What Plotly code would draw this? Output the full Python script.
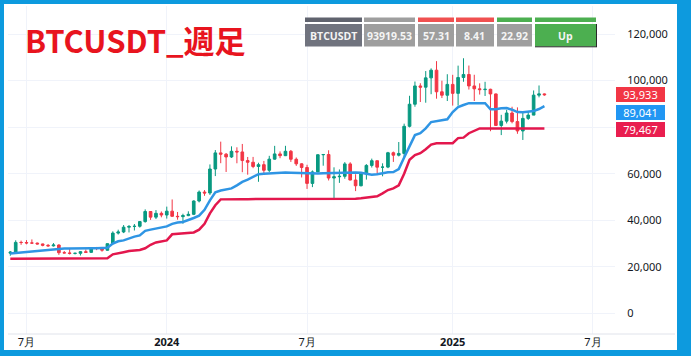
import plotly.graph_objects as go
import pandas as pd

# ---------------- data ----------------
week_start = "2023-06-12"
n_weeks = 100
weeks = pd.date_range(week_start, periods=n_weeks, freq="7D")

opens = [25910, 26340, 30530, 30470, 30290, 30230, 29860, 29280, 29040, 29410,
         26100, 26000, 25800, 25840, 26530, 26250, 27990, 27930, 27150, 29990,
         34520, 35010, 37060, 37360, 37450, 39460, 43790, 41370, 43010, 42280,
         43940, 41730, 41580, 42030, 42580, 48300, 52140, 51730, 62040, 68960,
         68390, 67210, 69650, 69360, 65660, 64940, 63120, 63900, 61480, 66270,
         68510, 67760, 69650, 66220, 64260, 62680, 55860, 60800, 68160, 68250,
         58160, 58710, 58900, 64220, 57300, 54840, 59990, 63580, 65600, 62820,
         62850, 69030, 67970, 68720, 80370, 89850, 97700, 97160, 101170, 104460,
         95190, 93710, 98360, 94510, 101330, 102620, 97700, 96460, 96120, 96260,
         94270, 80730, 82590, 86080, 82390, 78370, 83760, 85170, 93750, 94280]

highs = [26790, 31430, 31280, 31500, 31800, 30430, 30000, 29800, 30240, 29690,
         26820, 28150, 26100, 26780, 27480, 28000, 28580, 27990, 30000, 35280,
         35980, 37980, 37980, 38420, 39000, 44700, 44000, 44400, 43800, 45880,
         48970, 43580, 42840, 43880, 48590, 52820, 52990, 64000, 70170, 73780,
         68920, 71770, 71360, 72800, 67200, 67230, 64730, 65500, 67700, 71980,
         69590, 71990, 70200, 66990, 64490, 63860, 61420, 68370, 68500, 70080,
         62750, 61850, 65000, 64950, 59800, 60600, 64130, 66500, 65600, 64480,
         69400, 69520, 73620, 81500, 93480, 99590, 98870, 104090, 105250, 108350,
         99960, 102730, 102480, 106420, 109590, 106460, 102500, 98830, 99480, 96500,
         94420, 85300, 87450, 88770, 88500, 86100, 86490, 95760, 97900, 94480]

lows = [24800, 26250, 29500, 29700, 29950, 29650, 28850, 28700, 28750, 25170,
        25800, 25330, 25350, 24900, 26000, 26000, 27200, 26540, 26950, 29880,
        33900, 34520, 34800, 35630, 36880, 39000, 40200, 40550, 41300, 40750,
        41500, 40280, 38550, 41800, 42260, 47700, 50520, 50900, 59000, 64530,
        60760, 66800, 64500, 60660, 59600, 62390, 56550, 60180, 60750, 66060,
        66670, 67600, 65080, 63380, 58400, 53490, 54260, 60630, 63450, 57120,
        49000, 56080, 57860, 57200, 52550, 54600, 57490, 62670, 59800, 58900,
        62400, 65080, 67440, 66830, 79900, 88770, 90790, 90500, 94150, 92230,
        92500, 91220, 89260, 89260, 99500, 96150, 91230, 94000, 93390, 78260,
        80630, 76600, 81600, 81650, 77150, 74500, 83110, 85150, 92800, 93500]

closes = [26340, 30530, 30470, 30290, 30230, 29860, 29280, 29040, 29410, 26100,
          26000, 25800, 25840, 26530, 26250, 27990, 27930, 27150, 29990, 34520,
          35010, 37060, 37360, 37450, 39460, 43790, 41370, 43010, 42280, 43940,
          41730, 41580, 42030, 42580, 48300, 52140, 51730, 62040, 68960, 68390,
          67210, 69650, 69360, 65660, 64940, 63120, 63900, 61480, 66270, 68510,
          67760, 69650, 66220, 64260, 62680, 55860, 60800, 68160, 68250, 58160,
          58710, 58900, 64220, 57300, 54840, 59990, 63580, 65600, 62820, 62850,
          69030, 67970, 68720, 80370, 89850, 97700, 97160, 101170, 104460, 95190,
          93710, 98360, 94510, 101330, 102620, 97700, 96460, 96120, 96260, 94270,
          80730, 82590, 86080, 82390, 78370, 83760, 85170, 93750, 94280, 93920]

blue_line = [25800, 26000, 26300, 26600, 26800, 27000, 27300, 27500, 27700, 27800,
             27900, 27900, 28000, 28000, 28000, 28000, 28000, 28000, 28200, 30000,
             31000, 31400, 32300, 33000, 33500, 35500, 36000, 36500, 37000, 37400,
             38500, 39100, 39300, 40000, 41000, 42000, 44500, 48600, 52000, 52800,
             53300, 53700, 55000, 56500, 57500, 58500, 59800, 60000, 60200, 60400,
             60500, 60500, 60400, 60300, 60300, 60100, 60000, 60100, 60200, 60300,
             60300, 60300, 60400, 60400, 60500, 60400, 60000, 59600, 59800, 60300,
             60600, 60700, 62000, 67000, 71500, 76600, 77400, 79500, 82200, 82600,
             83000, 83400, 86500, 88600, 89500, 90300, 90300, 90300, 90300, 87700,
             87700, 88100, 88200, 87500, 86500, 86400, 86700, 86900, 87800, 89041]

red_line = [23500, 23500, 23500, 23500, 23500, 23500, 23500, 23500, 23500, 23500,
            23500, 23500, 23500, 23500, 23500, 23500, 23500, 23500, 23700, 25400,
            26000, 26300, 26800, 27100, 27300, 28000, 29500, 30500, 31000, 31400,
            34000, 34200, 34400, 34600, 34800, 36000, 38500, 43000, 46500, 49000,
            49100, 49100, 49100, 49100, 49100, 49100, 49100, 49100, 49100, 49100,
            49100, 49100, 49100, 49200, 49200, 49200, 49200, 49200, 49200, 49200,
            49200, 49200, 49200, 49200, 49300, 49500, 49800, 50000, 50300, 51600,
            53000, 53700, 55000, 60000, 66000, 68000, 68800, 70500, 72500, 73100,
            73100, 73100, 73100, 75300, 75500, 77400, 78500, 79467, 79467, 79467,
            79467, 79467, 79467, 79467, 79467, 79467, 79467, 79467, 79467, 79467]

x_tick_dates = ["2023-07-03", "2024-01-01", "2024-07-01", "2025-01-06", "2025-07-07"]
x_tick_text = ["7月", "<b>2024</b>", "7月", "<b>2025</b>", "7月"]
y_tick_vals = [0, 20000, 40000, 60000, 80000, 100000, 120000]
y_tick_text = ["0", "20,000", "40,000", "60,000", "", "100,000", "120,000"]

price_labels = [("93,933", 93933, "#f23645", 0),
                ("89,041", 89041, "#2196f3", -6),
                ("79,467", 79467, "#e91e4f", -1)]

table_texts = ["BTCUSDT", "93919.53", "57.31", "8.41", "22.92", "Up"]
title_text = "BTCUSDT_週足"

# ---------------- layout helpers (pixels) ----------------
W, H = 691, 356
ML, MR, MT, MB = 8, 76, 6, 22
PW, PH = W - ML - MR, H - MT - MB


def px(xp):
    return (xp - ML) / PW


def py(yp):
    return (H - MB - yp) / PH


fig = go.Figure()

fig.add_trace(go.Candlestick(
    x=weeks, open=opens, high=highs, low=lows, close=closes,
    increasing=dict(line=dict(color="#089981", width=1), fillcolor="#089981"),
    decreasing=dict(line=dict(color="#f23645", width=1), fillcolor="#f23645"),
    whiskerwidth=0, showlegend=False, hoverinfo="skip"))

fig.add_trace(go.Scatter(x=weeks, y=red_line, mode="lines",
                         line=dict(color="#e3174d", width=2.5), showlegend=False,
                         hoverinfo="skip"))
fig.add_trace(go.Scatter(x=weeks, y=blue_line, mode="lines",
                         line=dict(color="#2f95e4", width=2.5), showlegend=False,
                         hoverinfo="skip"))

shapes = []
annotations = []

# time axis bottom border line
shapes.append(dict(type="line", xref="paper", yref="paper",
                   x0=px(ML), x1=px(675), y0=0, y1=0,
                   line=dict(color="#e0e3eb", width=1)))

# table
cells = [(305, 362, "#70737e", "#60636e"),
         (364, 415, "#9e9e9e", "#9e9e9e"),
         (418, 454, "#9e9e9e", "#f05050"),
         (456, 494, "#9e9e9e", "#f05050"),
         (497, 532, "#9e9e9e", "#4caf50"),
         (535, 596, "#4caf50", "#4caf50")]
for (x0, x1, bg, stripe), txt in zip(cells, table_texts):
    shapes.append(dict(type="rect", xref="paper", yref="paper",
                       x0=px(x0), x1=px(x1), y0=py(17.5), y1=py(22),
                       fillcolor=stripe, line=dict(width=0), layer="above"))
    shapes.append(dict(type="rect", xref="paper", yref="paper",
                       x0=px(x0), x1=px(x1), y0=py(24), y1=py(46.5),
                       fillcolor=bg, line=dict(width=0), layer="above"))
    annotations.append(dict(xref="paper", yref="paper", x=px((x0 + x1) / 2),
                            y=py(35.5), text=f"<b>{txt}</b>", showarrow=False,
                            xanchor="center", yanchor="middle",
                            font=dict(family="Open Sans", size=10.5, color="#f4f4f4")))
shapes.append(dict(type="line", xref="paper", yref="paper",
                   x0=px(596.5), x1=px(596.5), y0=py(24), y1=py(47),
                   line=dict(color="#2a2a2a", width=1), layer="above"))
shapes.append(dict(type="line", xref="paper", yref="paper",
                   x0=px(535), x1=px(597), y0=py(46.8), y1=py(46.8),
                   line=dict(color="#2a2a2a", width=1), layer="above"))

# blue frame
frame = "#0d9ade"
for (x0, x1, y0, y1) in [(0, 4, 0, H), (677, W, 0, H), (0, W, 0, 4), (0, W, 350, H)]:
    shapes.append(dict(type="rect", xref="paper", yref="paper",
                       x0=px(x0), x1=px(x1), y0=py(y1), y1=py(y0),
                       fillcolor=frame, line=dict(width=0), layer="above"))

# title
annotations.append(dict(xref="paper", yref="paper", x=px(23), y=py(40),
                        text=f"<b>{title_text}</b>", showarrow=False,
                        xanchor="left", yanchor="middle",
                        font=dict(family="Noto Sans CJK JP", size=31, color="#e8141e")))

# price labels
for txt, val, col, shift in price_labels:
    annotations.append(dict(xref="paper", yref="y", x=px(616), y=val,
                            yshift=shift, text=txt, showarrow=False,
                            xanchor="left", yanchor="middle",
                            bgcolor=col, borderwidth=0, borderpad=1,
                            width=47, height=13, align="center",
                            font=dict(family="Noto Sans", size=11, color="white")))

y_per_px = 120000 / (313.5 - 34)
y_top = (313.5 - MT) * y_per_px
y_bot = -(H - MB - 313.5) * y_per_px

fig.update_layout(
    width=W, height=H, autosize=False,
    margin=dict(l=ML, r=MR, t=MT, b=MB),
    paper_bgcolor="white", plot_bgcolor="white",
    shapes=shapes, annotations=annotations,
    showlegend=False,
    xaxis=dict(type="date", range=["2023-06-09", "2025-08-04 14:00"],
               tickvals=x_tick_dates, ticktext=x_tick_text,
               showgrid=True, gridcolor="#f0f3fa", gridwidth=1,
               zeroline=False, showline=False, ticks="",
               rangeslider=dict(visible=False), fixedrange=True,
               tickfont=dict(family="Noto Sans", size=11, color="#131722")),
    yaxis=dict(side="right", range=[y_bot, y_top], tickvals=y_tick_vals,
               ticktext=y_tick_text, showgrid=True, gridcolor="#f0f3fa", gridwidth=1,
               zeroline=False, showline=False, ticks="outside", ticklen=9,
               tickcolor="rgba(0,0,0,0)", fixedrange=True,
               tickfont=dict(family="Noto Sans", size=11, color="#131722")),
)

fig.write_html("out.html", config={"displayModeBar": False},
               post_script="document.body.style.margin='0';")
